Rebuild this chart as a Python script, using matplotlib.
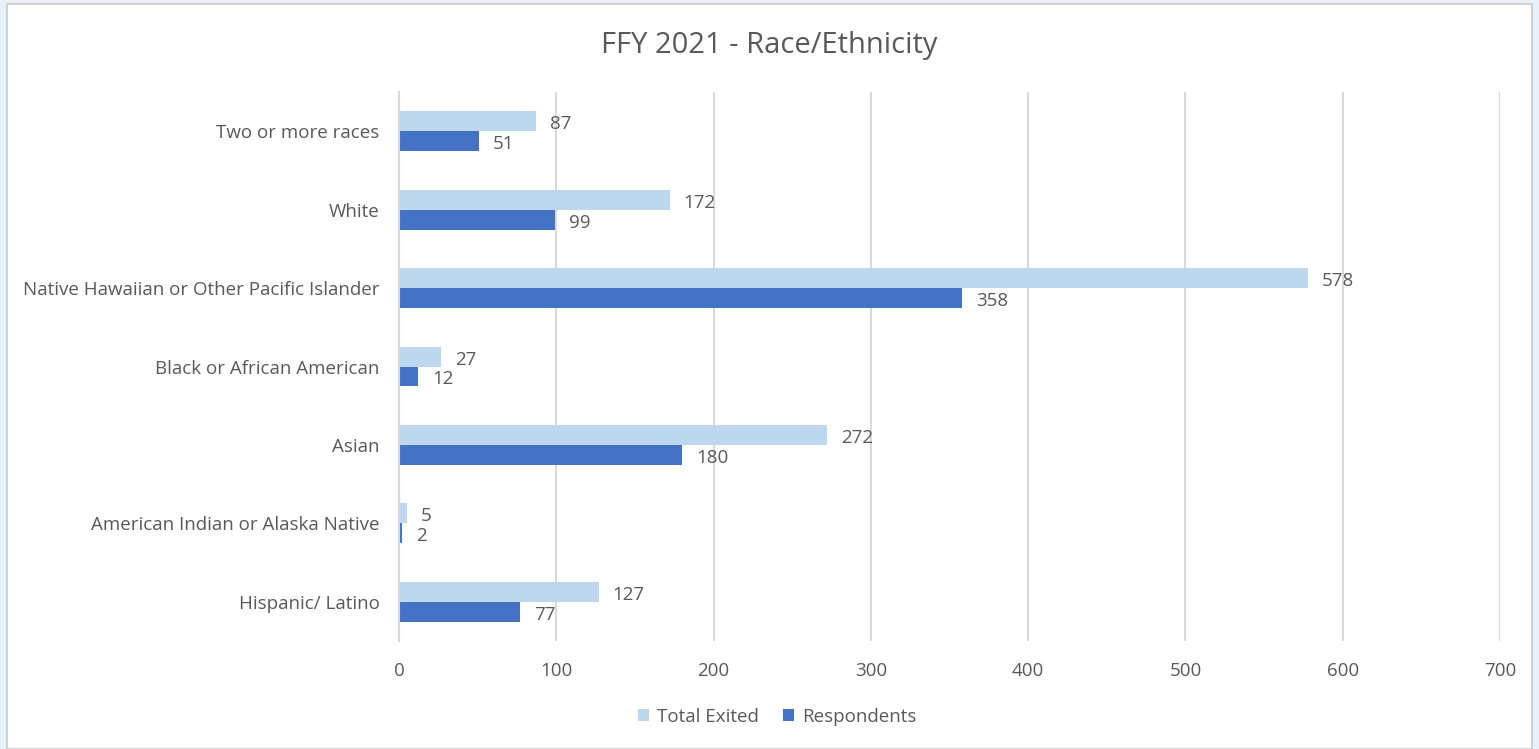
import matplotlib.pyplot as plt
import numpy as np
from matplotlib.patches import Rectangle

# data (bottom to top)
categories = ["Hispanic/ Latino", "American Indian or Alaska Native", "Asian",
              "Black or African American", "Native Hawaiian or Other Pacific Islander",
              "White", "Two or more races"]
total_exited = [127, 5, 272, 27, 578, 172, 87]
respondents = [77, 2, 180, 12, 358, 99, 51]

light = "#BDD7EE"
dark = "#4472C4"
txt = "#595959"

plt.rcParams["font.family"] = ["Open Sans", "DejaVu Sans"]

fig = plt.figure(figsize=(15.39, 7.49), dpi=100)
fig.patch.set_facecolor("#E6F1F8")
# white chart frame behind the axes
fig.patches.append(Rectangle((7 / 1539, 0.0), 1525 / 1539, 1 - 4 / 749, transform=fig.transFigure,
                             facecolor="white", edgecolor="#D0D0D0", linewidth=1.5, zorder=-5))

ax = fig.add_axes([399 / 1539, 1 - 641 / 749, (1500 - 399) / 1539, 549 / 749])
ax.set_facecolor("none")
ax.set_zorder(2)

y = np.arange(len(categories))
h = 0.255
b1 = ax.barh(y + h / 2, total_exited, height=h, color=light, label="Total Exited", zorder=2)
b2 = ax.barh(y - h / 2, respondents, height=h, color=dark, label="Respondents", zorder=2)

for bars in (b1, b2):
    for r in bars:
        ax.annotate(f"{int(r.get_width())}", (r.get_width(), r.get_y() + r.get_height() / 2),
                    xytext=(14, -3), textcoords="offset pixels",
                    va="center", ha="left", fontsize=13.5, color=txt)

ax.set_xlim(0, 700)
ax.set_ylim(-0.5, len(categories) - 0.5)
ax.set_xticks(np.arange(0, 701, 100))
ax.set_yticks(y)
ax.set_yticklabels(categories)
ax.tick_params(axis="both", length=0, labelsize=13.5, colors=txt)
ax.tick_params(axis="x", pad=15)
ax.tick_params(axis="y", pad=14)
ax.grid(axis="x", color="#D9D9D9", linewidth=1.5, zorder=0)
ax.set_axisbelow(True)
for s in ["top", "right", "bottom"]:
    ax.spines[s].set_visible(False)
ax.spines["left"].set_color("#D9D9D9")
ax.spines["left"].set_linewidth(1.5)

fig.text(0.5, 1 - 45 / 749, "FFY 2021 - Race/Ethnicity", ha="center", va="center",
         fontsize=21, color=txt)

fig.legend(handles=[b1, b2], loc="center", bbox_to_anchor=(777 / 1539, 1 - 717 / 749),
           ncol=2, frameon=False, fontsize=13.5, labelcolor=txt,
           handlelength=0.6, handleheight=0.6, handletextpad=0.4, columnspacing=1.3)

fig.savefig("out.png", dpi=100)
